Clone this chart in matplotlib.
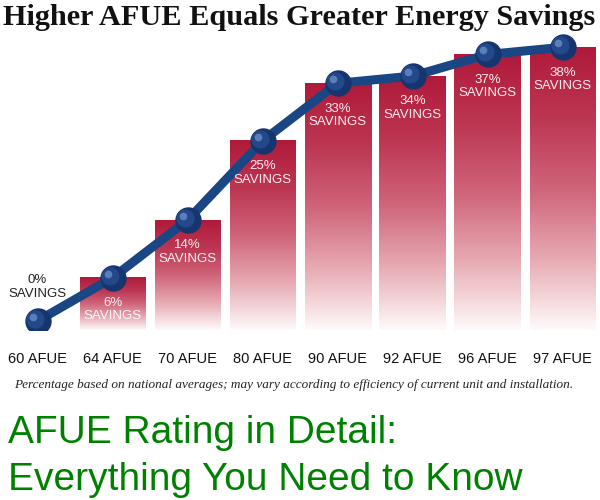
import numpy as np
import matplotlib.pyplot as plt
from matplotlib.colors import LinearSegmentedColormap
from matplotlib.transforms import offset_copy

# -----------------------------
# Data
# -----------------------------
categories = ["60 AFUE", "64 AFUE", "70 AFUE", "80 AFUE", "90 AFUE", "92 AFUE", "96 AFUE", "97 AFUE"]
savings = [0, 6, 14, 25, 33, 34, 37, 38]

title = "Higher AFUE Equals Greater Energy Savings"
footnote = "Percentage based on national averages; may vary according to efficiency of current unit and installation."
caption = ["AFUE Rating in Detail:", "Everything You Need to Know"]

SANS = ["Liberation Sans", "DejaVu Sans"]

# -----------------------------
# Figure
# -----------------------------
fig = plt.figure(figsize=(6, 5), dpi=100)
ax = fig.add_axes([0.0, 0.34, 1.0, 0.60])

ybase = -1.25
ax.set_xlim(-0.5, 7.5)
ax.set_ylim(ybase, 40.4)

bar_cmap = LinearSegmentedColormap.from_list(
    "bar", ["#fefafa", "#e7aab3", "#cf6479", "#bc3652", "#b01a3a"])
grad = np.linspace(0, 1, 256).reshape(-1, 1)

x = np.arange(len(categories))
width = 0.88
for xi, v in zip(x, savings):
    if v <= 0:
        continue
    ax.imshow(grad, cmap=bar_cmap, origin="lower", aspect="auto",
              extent=(xi - width / 2, xi + width / 2, ybase, v), zorder=1)

# line + sphere markers
ax.plot(x, savings, color="#1b4684", linewidth=6.5, zorder=3, solid_capstyle="round")
ax.plot(x, savings, "o", color="#16356f", markersize=18, zorder=4)
hl = offset_copy(ax.transData, fig=fig, x=-1.5, y=1.5, units="points")
ax.plot(x, savings, "o", color="#24498a", markersize=12, zorder=5, transform=hl)
hl2 = offset_copy(ax.transData, fig=fig, x=-3, y=3, units="points")
ax.plot(x, savings, "o", color="#5a7fb8", markersize=4.5, zorder=6, transform=hl2)

# savings labels
for xi, v in zip(x, savings):
    if v == 0:
        ax.annotate(f"{v}%\nSAVINGS", (xi, v), xytext=(0, 34), textcoords="offset pixels",
                    ha="center", va="center", fontsize=9.5, family=SANS,
                    color="#222222", linespacing=1.15, zorder=7)
    else:
        ax.annotate(f"{v}%\nSAVINGS", (xi, v), xytext=(0, -32), textcoords="offset pixels",
                    ha="center", va="center", fontsize=9.5, family=SANS,
                    color="white", alpha=0.92, linespacing=1.15, zorder=7)

ax.set_xticks(x)
ax.set_xticklabels(categories, fontsize=10.5, family=SANS, color="#111111")
ax.tick_params(axis="x", length=0, pad=16)
ax.set_yticks([])
for s in ax.spines.values():
    s.set_visible(False)

# -----------------------------
# Texts
# -----------------------------
fig.text(0.005, 0.965, title, ha="left", va="center", fontsize=21.8,
         family="Liberation Serif", fontweight="bold", color="#111111")
fig.text(0.49, 0.23, footnote, ha="center", va="center", fontsize=9.5,
         family="Liberation Serif", style="italic", color="#222222")
fig.text(0.013, 0.114, caption[0], ha="left", va="baseline", fontsize=28,
         family="Liberation Sans", color="#008000")
fig.text(0.013, 0.02, caption[1], ha="left", va="baseline", fontsize=28,
         family="Liberation Sans", color="#008000")

fig.savefig("out.png", dpi=100)
